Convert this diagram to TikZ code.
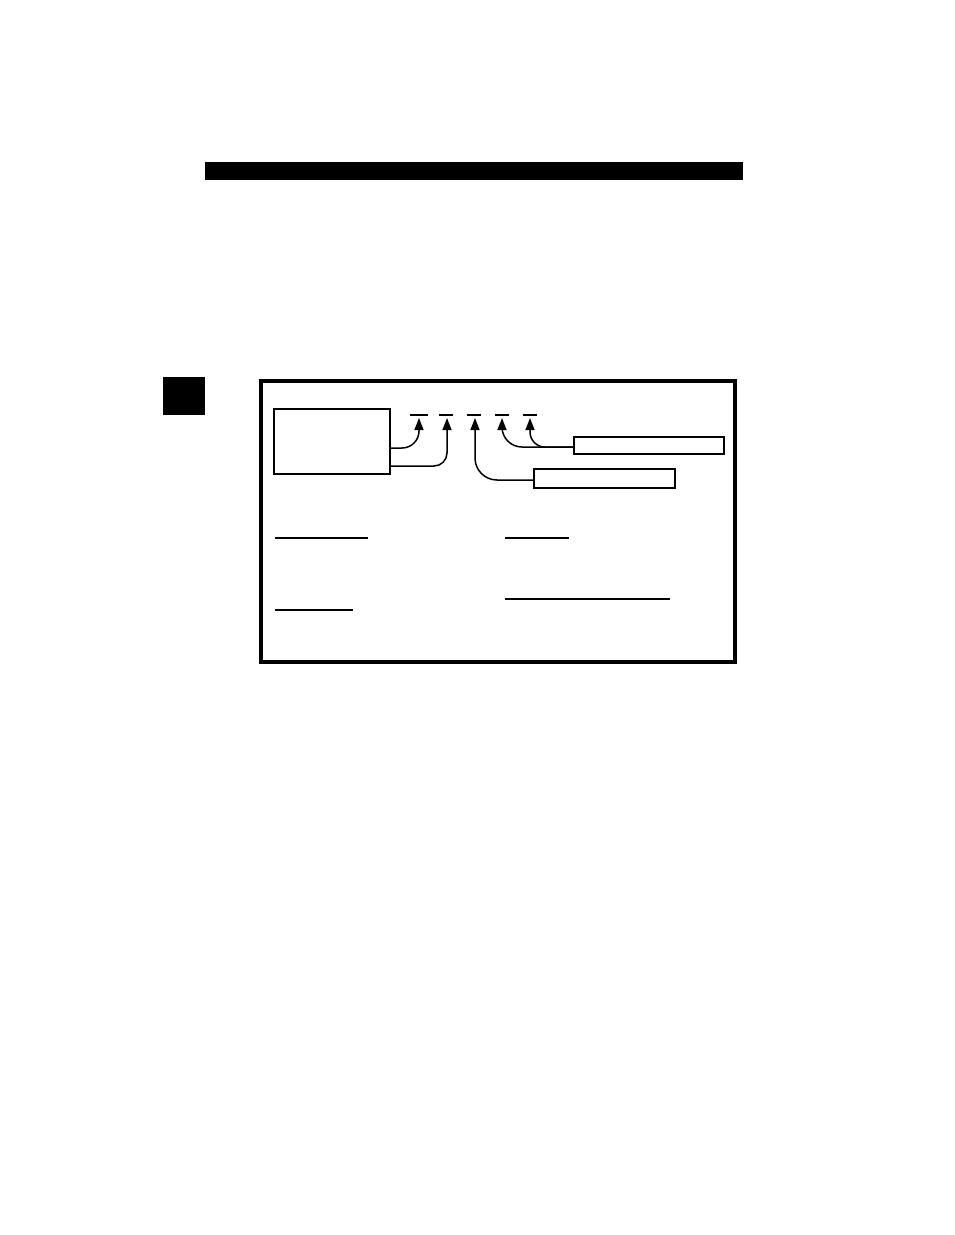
\documentclass[tikz,border=0pt]{standalone}
\usetikzlibrary{arrows.meta,calc}
\begin{document}
\begin{tikzpicture}[x=1pt,y=-1pt,
  blackblock/.style={fill=black,draw=none,inner sep=0pt,outer sep=0pt},
  bar/.style={fill=black,draw=none,inner sep=0pt,outer sep=0pt,minimum height=2pt},
  box/.style={draw=black,line width=1.6pt,inner sep=0pt,outer sep=0pt},
  conn/.style={line width=1.5pt,-{Triangle[length=12pt,width=9pt]}},
  uline/.style={line width=1.2pt}]
\useasboundingbox (0,0) rectangle (954,1235);
% header bar and side tab
\node[blackblock,minimum width=538pt,minimum height=18pt] (header) at (474,171) {};
\node[blackblock,minimum width=42pt,minimum height=38pt] (tab) at (184,396) {};
% frame
\node[draw=black,line width=3.5pt,minimum width=474pt,minimum height=281pt,inner sep=0pt] (frame) at (498,521.5) {};
% left box
\node[box,minimum width=116pt,minimum height=65pt] (lbox) at (332,441.5) {};
% bars
\node[bar,minimum width=18pt] (b1) at (419,415) {};
\node[bar,minimum width=14pt] (b2) at (446,415) {};
\node[bar,minimum width=14pt] (b3) at (474,415) {};
\node[bar,minimum width=14pt] (b4) at (502,415) {};
\node[bar,minimum width=14pt] (b5) at (530,415) {};
% right boxes
\node[box,minimum width=150pt,minimum height=17pt] (rb1) at (649,445.5) {};
\node[box,minimum width=141pt,minimum height=19pt] (rb2) at (604.5,478.5) {};
% connectors
\draw[conn,rounded corners=17pt] (lbox.east |- 0,448) -| ($(b1.south)+(0,2)$);
\draw[conn,rounded corners=13pt] (lbox.east |- 0,466) -| ($(b2.south)+(1,2)$);
\draw[conn,rounded corners=22pt] (rb2.west |- 0,480) -| ($(b3.south)+(1,2)$);
\draw[conn,rounded corners=20pt] (rb1.west |- 0,447) -| ($(b4.south)+(0,2)$);
\draw[conn,rounded corners=15pt] (rb1.west |- 0,447) -| ($(b5.south)+(0,2)$);
% underlines
\draw[uline] (275,538) -- (368,538);
\draw[uline] (275,610) -- (353,610);
\draw[uline] (505,538) -- (569,538);
\draw[uline] (505,599) -- (670,599);
\end{tikzpicture}
\end{document}
